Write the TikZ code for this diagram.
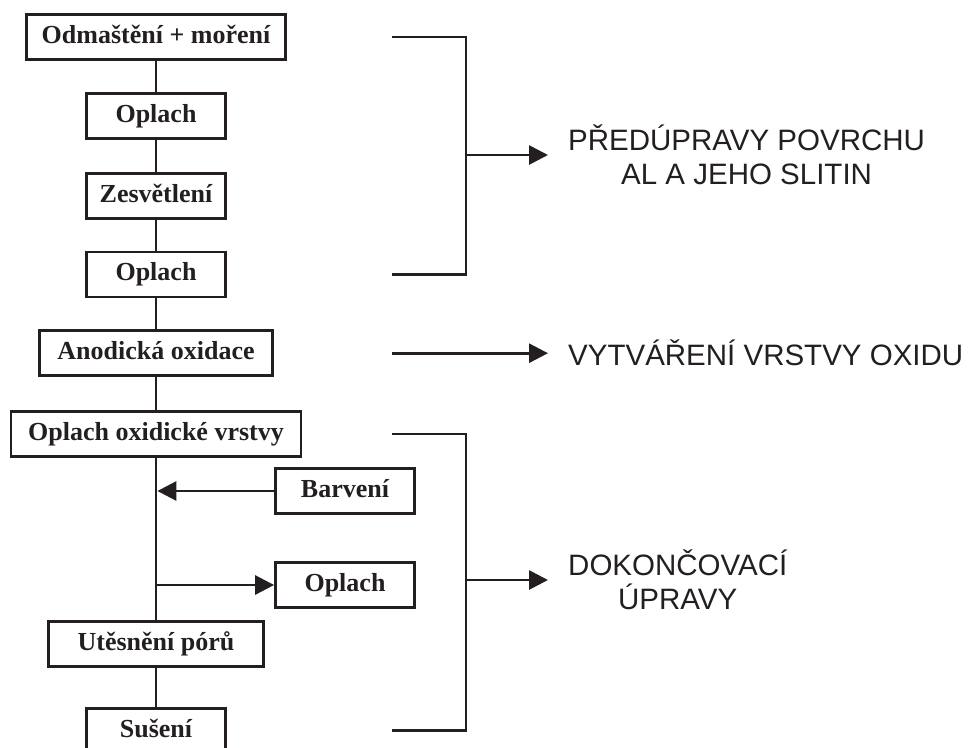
\documentclass[tikz,border=0pt]{standalone}
\usepackage{fontspec}
\setmainfont{Liberation Serif}
\setsansfont{Liberation Sans}
\usepackage{tikz}
\usetikzlibrary{arrows.meta, positioning}
\definecolor{ink}{HTML}{231F20}
\tikzset{
    stepbox/.style={rectangle, draw=ink, line width=2.8pt, text=ink, minimum height=45pt, minimum width=139pt, inner sep=0pt, text height=18pt, text depth=5pt, font=\fontsize{26}{30}\selectfont\bfseries},
    caption/.style={text=ink, align=center, inner xsep=20pt, inner ysep=0pt, font=\sffamily\fontsize{29.5}{34}\selectfont},
    link/.style={draw=ink, line width=2.8pt},
    arrow/.style={-{Triangle[length=19pt, width=19pt]}, draw=ink, line width=2.8pt},
    bracket/.style={draw=ink, line width=2.8pt}
}

\begin{document}
\begin{tikzpicture}[x=1pt, y=-1pt, node distance=31pt]
    \useasboundingbox (0,0) rectangle (968,747);

    \node [stepbox, minimum width=259pt] (odmast) at (156,37) {Odmaštění + moření};
    \node [stepbox, below=of odmast] (oplach1) {Oplach};
    \node [stepbox, below=32pt of oplach1] (zesvet) {Zesvětlení};
    \node [stepbox, below=of zesvet] (oplach2) {Oplach};
    \node [stepbox, below=of oplach2, minimum width=233pt] (anoda) {Anodická oxidace};
    \node [stepbox, below=33pt of anoda, minimum width=290pt] (oplox) {Oplach oxidické vrstvy};
    \node [stepbox, below=162pt of oplox, minimum width=215pt] (utesn) {Utěsnění pórů};
    \node [stepbox, below=39pt of utesn] (suseni) {Sušení};
    \node [stepbox] (barveni) at (345,491) {Barvení};
    \node [stepbox] (oplach3) at (345,585) {Oplach};

    \draw [link] (odmast) -- (oplach1);
    \draw [link] (oplach1) -- (zesvet);
    \draw [link] (zesvet) -- (oplach2);
    \draw [link] (oplach2) -- (anoda);
    \draw [link] (anoda) -- (oplox);
    \draw [link] (oplox) -- (utesn);
    \draw [link] (utesn) -- (suseni);
    \draw [arrow] (barveni.west) -- ([xshift=1.4pt]barveni.west -| oplox.south);
    \draw [arrow] (oplach3.west -| oplox.south) -- (oplach3.west);

    \coordinate (brL) at (392,0);
    \coordinate (brR) at (466,0);
    \coordinate (mid1) at (466,155);
    \coordinate (mid2) at (466,580);
    \coordinate (start2) at (anoda -| brL);

    \draw [bracket] (odmast -| brL) -- (odmast -| brR) -- (oplach2 -| brR) -- (oplach2 -| brL);
    \draw [bracket] (oplox -| brL) -- (oplox -| brR) -- (suseni -| brR) -- (suseni -| brL);

    \node [caption, right=82pt of mid1] (predupr) {PŘEDÚPRAVY POVRCHU\\AL A JEHO SLITIN};
    \node [caption, right=156pt of start2] (vytvar) {VYTVÁŘENÍ VRSTVY OXIDU};
    \node [caption, right=82pt of mid2] (dokonc) {DOKONČOVACÍ\\ÚPRAVY};

    \draw [arrow] (mid1) -- (predupr);
    \draw [arrow] (start2) -- (vytvar);
    \draw [arrow] (mid2) -- (dokonc);
\end{tikzpicture}
\end{document}
